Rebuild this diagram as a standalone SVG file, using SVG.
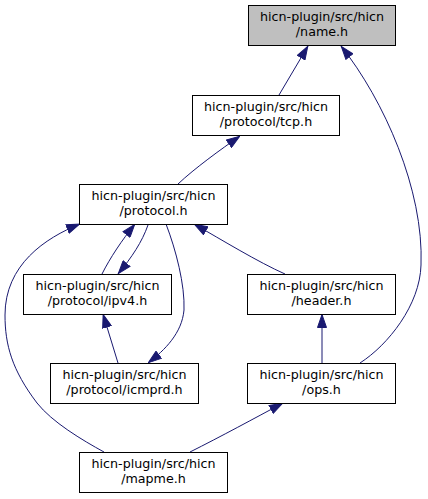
<svg xmlns="http://www.w3.org/2000/svg" width="428" height="499" viewBox="0 0 428 499">
<style>
.n rect{fill:#fff;stroke:#000;stroke-width:1}
.n text{font-family:"DejaVu Sans",sans-serif;font-size:12.7px;text-anchor:middle;fill:#000}
.e path{fill:none;stroke:#191970;stroke-width:1}
</style>
<defs>
<marker id="a" viewBox="0 0 14 10" refX="14" refY="5" markerWidth="14" markerHeight="10" markerUnits="userSpaceOnUse" orient="auto">
<path d="M0.5,0.5 L13.5,5 L0.5,9.5 z" fill="#191970" stroke="#191970"/>
</marker>
</defs>
<rect width="428" height="499" fill="#fff"/>
<g class="e">
<path d="M279,95 L308,46" marker-end="url(#a)"/>
<path d="M360,363 C388,345 420,305 421,265 C424,190 384,100 341,46" marker-end="url(#a)"/>
<path d="M178,184 C195,168 220,150 240,136" marker-end="url(#a)"/>
<path d="M102,274 C110,258 122,240 135,224" marker-end="url(#a)"/>
<path d="M148,225 C142,242 132,257 118,274" marker-end="url(#a)"/>
<path d="M118,363 L103,314" marker-end="url(#a)"/>
<path d="M166,224 C176,250 185,285 184,310 C182,333 165,350 148,363" marker-end="url(#a)"/>
<path d="M285,274 C258,262 222,240 194,224" marker-end="url(#a)"/>
<path d="M104,452 C82,440 52,422 37,403 C12,370 5,345 5,315 C5,265 45,238 80,224" marker-end="url(#a)"/>
<path d="M190,452 C220,437 255,418 283,403" marker-end="url(#a)"/>
<path d="M322,363 L322,314" marker-end="url(#a)"/>
</g>
<g id="name" class="n"><rect x="248.5" y="5.5" width="147" height="40" style="fill:#bfbfbf"/><text x="322" y="20.5">hicn-plugin/src/hicn</text><text x="322" y="35.5">/name.h</text></g>
<g id="tcp" class="n"><rect x="192.5" y="95.5" width="147" height="40"/><text x="266" y="110.5">hicn-plugin/src/hicn</text><text x="266" y="125.5">/protocol/tcp.h</text></g>
<g id="protocol" class="n"><rect x="79.5" y="184.5" width="148" height="40"/><text x="153.5" y="199.5">hicn-plugin/src/hicn</text><text x="153.5" y="214.5">/protocol.h</text></g>
<g id="ipv4" class="n"><rect x="23.5" y="274.5" width="148" height="40"/><text x="97.5" y="289.5">hicn-plugin/src/hicn</text><text x="97.5" y="304.5">/protocol/ipv4.h</text></g>
<g id="header" class="n"><rect x="247.5" y="274.5" width="148" height="40"/><text x="321.5" y="289.5">hicn-plugin/src/hicn</text><text x="321.5" y="304.5">/header.h</text></g>
<g id="icmprd" class="n"><rect x="50.5" y="363.5" width="148" height="40"/><text x="124.5" y="378.5">hicn-plugin/src/hicn</text><text x="124.5" y="393.5">/protocol/icmprd.h</text></g>
<g id="ops" class="n"><rect x="247.5" y="363.5" width="148" height="40"/><text x="321.5" y="378.5">hicn-plugin/src/hicn</text><text x="321.5" y="393.5">/ops.h</text></g>
<g id="mapme" class="n"><rect x="79.5" y="452.5" width="148" height="40"/><text x="153.5" y="467.5">hicn-plugin/src/hicn</text><text x="153.5" y="482.5">/mapme.h</text></g>
</svg>
